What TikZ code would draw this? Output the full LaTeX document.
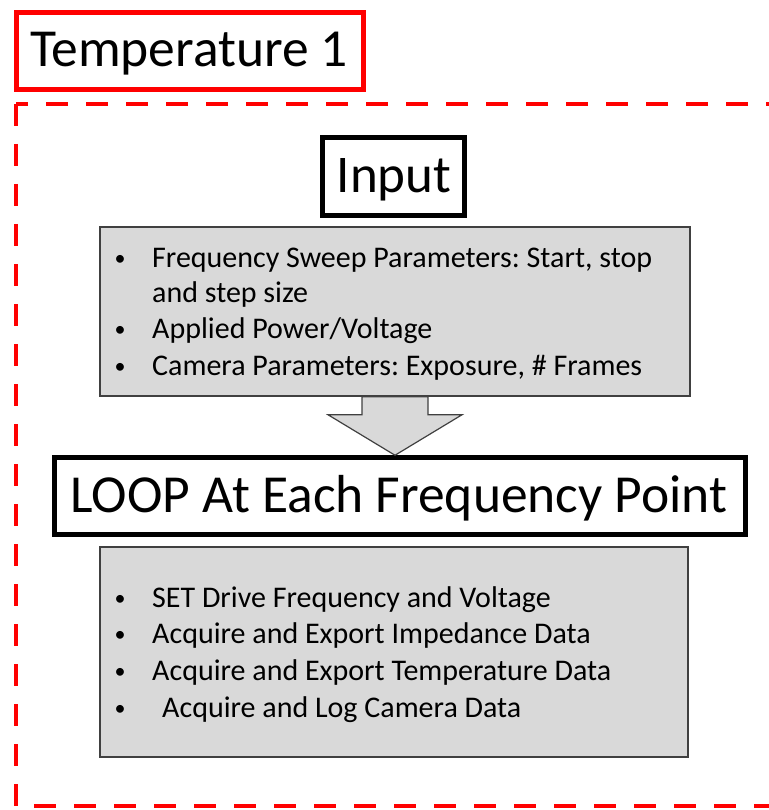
\documentclass[tikz,border=0pt]{standalone}
\usepackage{fontspec}
\setmainfont{Carlito}
\usetikzlibrary{calc}
\usepackage{xcolor}
\frenchspacing

\definecolor{boxgray}{HTML}{D9D9D9}
\definecolor{edgegray}{HTML}{404040}

\tikzset{
  redbox/.style={draw=red, line width=5pt},
  blackbox/.style={draw=black, line width=4.5pt},
  listbox/.style={draw=edgegray, fill=boxgray, line width=1.5pt},
  bigtext/.style={anchor=base, inner sep=0pt, font=\fontsize{53}{60}\selectfont},
  itemtext/.style={anchor=base west, inner sep=0pt, font=\fontsize{30}{36}\selectfont},
  dot/.style={anchor=base, inner sep=0pt, font=\fontsize{22}{26}\selectfont},
  dashbox/.style={draw=red, line width=4.5pt, dash pattern=on 22pt off 18pt},
  blockarrow/.style={draw=edgegray, fill=boxgray, line width=1.2pt, line join=miter}
}

\begin{document}
\begin{tikzpicture}[x=1pt,y=-1pt]
      \useasboundingbox (0,0) rectangle (768,810);
      \def\bx{120}
      \def\tx{152}

      % Cadres
      \draw[dashbox] (16,104) rectangle (800,806);
      \node[redbox, minimum width=347, minimum height=77] (tempbox) at (190,51) {};
      \node[blackbox, minimum width=142, minimum height=78] (inbox) at (393.5,176.5) {};
      \node[listbox, minimum width=590, minimum height=169] (inlist) at (395,311.5) {};
      \node[blackbox, minimum width=691, minimum height=77] (loop) at (400,496) {};
      \node[listbox, minimum width=588, minimum height=210] (looplist) at (394,652) {};

      % Titres
      \node[bigtext, font=\fontsize{53.5}{60}\selectfont] (temptext) at (189,67) {Temperature 1};
      \node[bigtext] (intext) at (394,193) {Input};
      \node[bigtext, font=\fontsize{53.5}{60}\selectfont] (looptext) at (399,512) {LOOP At Each Frequency Point};

      % Fleche
      \filldraw[blockarrow] ($(inlist.south)+(-33,0)$) -- ++(0,18) -- ++(-34,0)
        -- (inlist.south |- loop.north) -- ($(inlist.south)+(67,18)$) -- ++(-34,0)
        -- ($(inlist.south)+(33,0)$) -- cycle;

      % Parametres
      \node[dot] (d1) at (\bx,265) {\textbullet};
      \node[itemtext] (i1) at (\tx,267) {Frequency Sweep Parameters: Start, stop};
      \node[itemtext] (i2) at (\tx,302) {and step size};
      \node[dot] (d3) at (\bx,336) {\textbullet};
      \node[itemtext] (i3) at (\tx,338) {Applied Power/Voltage};
      \node[dot] (d4) at (\bx,373) {\textbullet};
      \node[itemtext] (i4) at (\tx,375) {Camera Parameters: Exposure, \# Frames};

      % Boucle
      \node[dot] (e1) at (\bx,605) {\textbullet};
      \node[itemtext] (j1) at (\tx,607) {SET Drive Frequency and Voltage};
      \node[dot] (e2) at (\bx,641) {\textbullet};
      \node[itemtext] (j2) at (\tx,643) {Acquire and Export Impedance Data};
      \node[dot] (e3) at (\bx,678) {\textbullet};
      \node[itemtext] (j3) at (\tx,680) {Acquire and Export Temperature Data};
      \node[dot] (e4) at (\bx,715) {\textbullet};
      \node[itemtext] (j4) at (162,717) {Acquire and Log Camera Data};
    \end{tikzpicture}
\end{document}
